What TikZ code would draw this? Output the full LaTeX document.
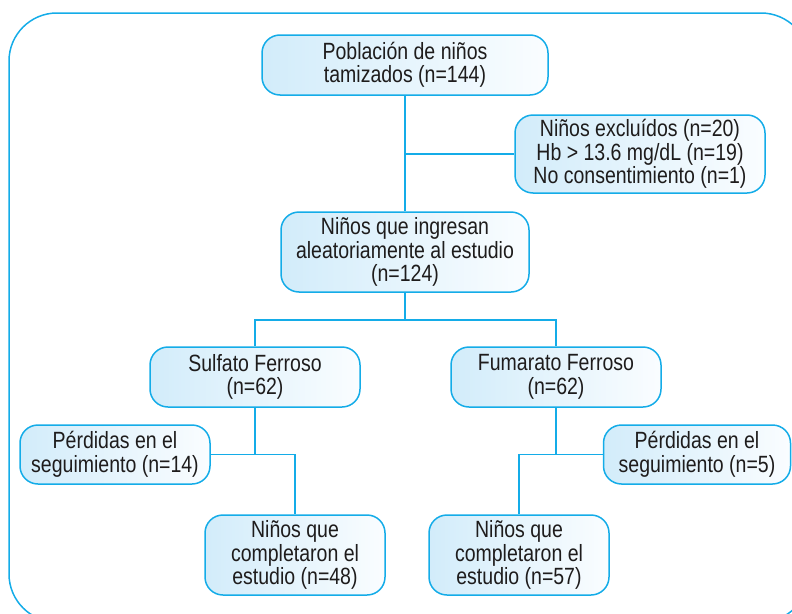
\documentclass[tikz,border=0pt]{standalone}
\usepackage{fontspec}
\setmainfont{Liberation Sans}[FakeStretch=0.83]
\definecolor{frame}{RGB}{20,172,232}
\definecolor{boxL}{RGB}{210,236,250}
\definecolor{boxR}{RGB}{250,253,255}
\definecolor{ink}{RGB}{30,28,28}
\begin{document}
\begin{tikzpicture}[x=1pt,y=-1pt,
  box/.style={draw=frame, line width=1.5pt, rounded corners=18pt,
    left color=boxL, right color=boxR, text=ink, align=center,
    font=\fontsize{23.5pt}{23.5pt}\selectfont, inner sep=0pt},
  link/.style={draw=frame, line width=1.5pt}]
\useasboundingbox (0,0) rectangle (792,613);
\begin{scope}
\clip (0,0) rectangle (792,613);
\draw[frame, line width=1.5pt, rounded corners=48pt] (9,13) rectangle (809,622);
\end{scope}
\node[box, minimum width=286pt, minimum height=60pt] (pop) at (405,65) {Población de niños\\tamizados (n=144)};
\node[box, minimum width=250pt, minimum height=78pt] (excl) at (640,154) {Niños excluídos (n=20)\\Hb > 13.6 mg/dL (n=19)\\No consentimiento (n=1)};
\node[box, minimum width=248pt, minimum height=80pt] (rand) at (405,252) {Niños que ingresan\\aleatoriamente al estudio\\(n=124)};
\node[box, minimum width=210pt, minimum height=60pt] (sulf) at (255,377) {Sulfato Ferroso\\(n=62)};
\node[box, minimum width=210pt, minimum height=60pt] (fum) at (556,377) {Fumarato Ferroso\\(n=62)};
\node[box, minimum width=190pt, minimum height=59pt] (lossL) at (115,454.5) {Pérdidas en el\\seguimiento (n=14)};
\node[box, minimum width=187pt, minimum height=59pt] (lossR) at (697,454.5) {Pérdidas en el\\seguimiento (n=5)};
\node[box, minimum width=180pt, minimum height=80pt] (compL) at (295,555) {Niños que\\completaron el\\estudio (n=48)};
\node[box, minimum width=180pt, minimum height=80pt] (compR) at (519,555) {Niños que\\completaron el\\estudio (n=57)};
\coordinate (split) at (405,320);
\draw[link] (pop.south) -- (rand.north);
\draw[link] (pop.south |- excl.west) -- (excl.west);
\draw[link] (rand.south) -- (split);
\draw[link] (split) -| (sulf.north);
\draw[link] (split) -| (fum.north);
\draw[link] (sulf.south) -- (sulf.south |- lossL.east);
\draw[link] (lossL.east) -| (compL.north);
\draw[link] (fum.south) -- (fum.south |- lossR.west);
\draw[link] (lossR.west) -| (compR.north);
\end{tikzpicture}
\end{document}
